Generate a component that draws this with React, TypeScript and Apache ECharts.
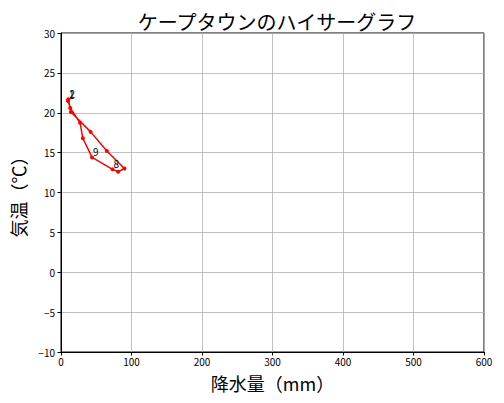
import React, { useEffect, useRef } from "react";
import * as echarts from "echarts";

const months = [1, 2, 3, 4, 5, 6, 7, 8, 9, 10, 11, 12];
const precipitation = [10, 10.5, 14, 42, 65, 90, 81, 73, 44, 31, 27, 13];
const temperature = [21.5, 21.7, 20.1, 17.6, 15.2, 13.0, 12.6, 12.9, 14.4, 16.8, 18.75, 20.6];
const labeledMonths = [1, 2, 8, 9];
const xTicks = [0, 100, 200, 300, 400, 500, 600];
const yTicks = [-10, -5, 0, 5, 10, 15, 20, 25, 30];

const FONT = "'Noto Sans CJK JP', 'Noto Sans', sans-serif";

export default function App() {
  const ref = useRef<HTMLDivElement>(null);
  useEffect(() => {
    if (!ref.current) return;
    document.body.style.margin = "0";
    const chart = echarts.init(ref.current, undefined, { renderer: "svg" });
    const pts = months.map((m, i) => ({
      value: [precipitation[i], temperature[i], m],
    }));
    const data = pts.concat([{ value: [precipitation[0], temperature[0], -1] }]);
    chart.setOption({
      animation: false,
      textStyle: { fontFamily: FONT },
      title: {
        text: "ケープタウンのハイサーグラフ",
        left: 272,
        textAlign: "center",
        top: 6,
        textStyle: { fontSize: 20, fontWeight: "normal", color: "#000", fontFamily: FONT },
      },
      grid: {
        left: 61,
        right: 20,
        top: 33,
        bottom: 51,
        show: true,
        borderColor: "#000",
        borderWidth: 1,
        backgroundColor: "transparent",
      },
      xAxis: {
        type: "value",
        min: xTicks[0],
        max: xTicks[xTicks.length - 1],
        interval: 100,
        name: "降水量（mm）",
        nameLocation: "middle",
        nameGap: 22,
        nameTextStyle: { fontSize: 18, color: "#000", fontFamily: FONT },
        axisLine: { show: true, onZero: false, lineStyle: { color: "#000", width: 1 } },
        axisTick: { show: true, length: 3.5, lineStyle: { color: "#000" } },
        axisLabel: { fontSize: 10, color: "#000", margin: 4, fontFamily: FONT },
        splitLine: { show: true, lineStyle: { color: "#b0b0b0", width: 0.8 } },
      },
      yAxis: {
        type: "value",
        min: yTicks[0],
        max: yTicks[yTicks.length - 1],
        interval: 5,
        name: "気温（℃）",
        nameLocation: "middle",
        nameGap: 32,
        nameRotate: 90,
        nameTextStyle: { fontSize: 18, color: "#000", fontFamily: FONT },
        axisLine: { show: true, onZero: false, lineStyle: { color: "#000", width: 1 } },
        axisTick: { show: true, length: 3.5, lineStyle: { color: "#000" } },
        axisLabel: {
          fontSize: 10,
          color: "#000",
          margin: 6,
          fontFamily: FONT,
          formatter: (v: number) => String(v).replace("-", "\u2212"),
        },
        splitLine: { show: true, lineStyle: { color: "#b0b0b0", width: 0.8 } },
      },
      series: [
        {
          type: "line",
          data,
          symbol: "circle",
          symbolSize: 4,
          showAllSymbol: true,
          lineStyle: { color: "#ff0000", width: 1.5 },
          itemStyle: { color: "#ff0000" },
          label: {
            show: true,
            position: [3, -9],
            fontSize: 10,
            color: "#000",
            fontFamily: FONT,
            formatter: (p: any) =>
              labeledMonths.indexOf(p.value[2]) >= 0 ? String(p.value[2]) : "",
          },
        },
      ],
    });
    return () => chart.dispose();
  }, []);
  return <div ref={ref} style={{ width: 504, height: 403 }} />;
}
